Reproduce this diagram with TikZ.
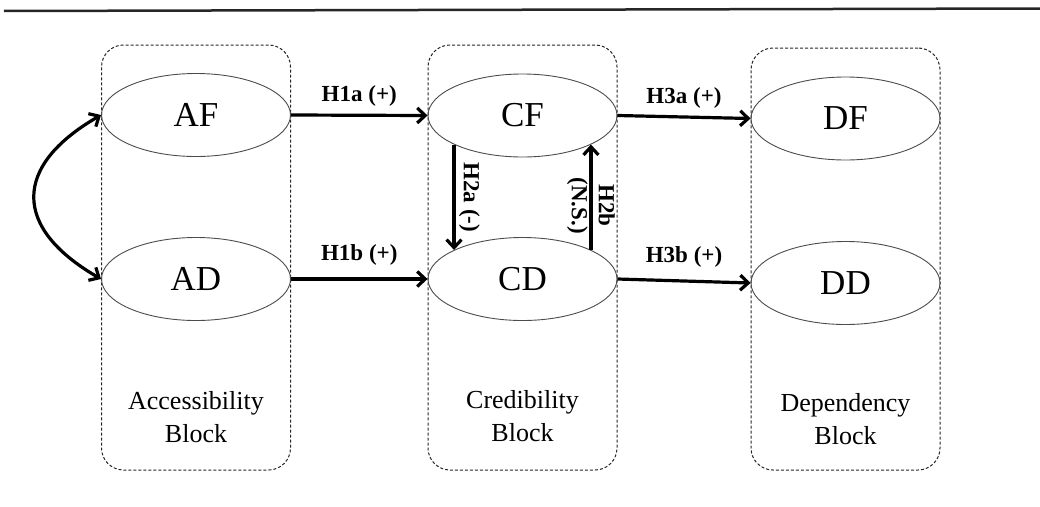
\documentclass[tikz,border=0pt]{standalone}
\usepackage{fontspec}
\setmainfont{Liberation Serif}
\usetikzlibrary{shapes,arrows,arrows.meta,positioning}
\tikzstyle{blockbox}=[rectangle, rounded corners=22pt, draw=black!85, line width=1pt, dash pattern=on 3pt off 2pt, minimum width=189pt]
\tikzstyle{whiteoval}=[ellipse, draw=black!70, line width=0.9pt, minimum width=189pt, minimum height=83pt, inner sep=0pt, font=\fontsize{35}{40}\selectfont]
\tikzstyle{blocklabel}=[align=center, font=\fontsize{26}{33}\selectfont]
\tikzstyle{hyp}=[font=\bfseries\fontsize{23}{27}\selectfont]
\tikzstyle{link}=[->, line width=3.2pt]

\begin{document}
\begin{tikzpicture}[x=1pt, y=1pt, >={Straight Barb[length=8pt,width=15pt]}]
\useasboundingbox (0,0) rectangle (1040,-506);
\draw[line width=2.5pt, black!85] (4,-11) -- (1040,-8.5);

\node[blockbox, minimum height=425pt] (accblock) at (196,-257.5) {};
\node[blockbox, minimum height=425pt] (credblock) at (522.5,-257.5) {};
\node[blockbox, minimum height=422pt] (depblock) at (845.5,-259) {};

\node[whiteoval] (AF) at (196,-115) {AF};
\node[whiteoval] (AD) at (196,-279) {AD};
\node[whiteoval] (CF) at (522.5,-115.5) {CF};
\node[whiteoval] (CD) at (522.5,-279) {CD};
\node[whiteoval] (DF) at (845.5,-118.5) {DF};
\node[whiteoval] (DD) at (845.5,-283) {DD};

\node[blocklabel] (acclabel) at (196,-417) {Accessibility\\Block};
\node[blocklabel] (credlabel) at (522.5,-416) {Credibility\\Block};
\node[blocklabel] (deplabel) at (845.5,-419) {Dependency\\Block};

\draw[link] (AF.east) -- node[hyp, above=4pt] {H1a (+)} (CF.west);
\draw[link] (AD.east) -- node[hyp, above=9pt] {H1b (+)} (CD.west);
\draw[link] (CF.east) -- node[hyp, above=4pt] {H3a (+)} (DF.west);
\draw[link] (CD.east) -- node[hyp, above=9pt] {H3b (+)} (DD.west);
\draw[link] (CF.203) -- node[hyp, rotate=-90, anchor=south] {H2a (-)} (CD.157);
\draw[link] (CD.23) -- node[hyp, pos=0.42, rotate=-90, align=center] {H2b\\(N.S.)} (CF.-23);
\draw[<->, line width=3.2pt] (AF.west) to[out=210, in=150, looseness=1.6] (AD.west);

\end{tikzpicture}
\end{document}
